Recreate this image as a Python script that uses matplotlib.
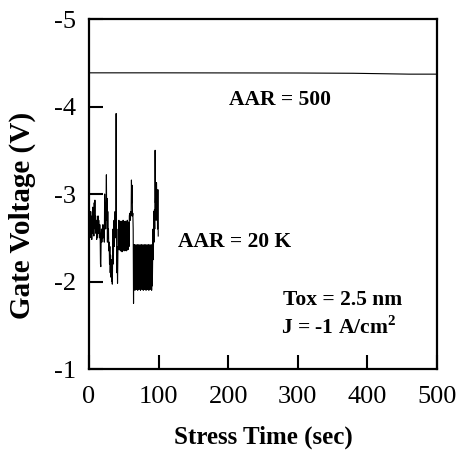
import numpy as np
import matplotlib
matplotlib.use('Agg')
from matplotlib import pyplot as plt

plt.rcParams['font.family'] = ['Liberation Serif', 'DejaVu Serif']
plt.rcParams['axes.unicode_minus'] = False
plt.rcParams['mathtext.fontset'] = 'custom'
plt.rcParams['mathtext.bf'] = 'Liberation Serif:bold'
plt.rcParams['mathtext.rm'] = 'Liberation Serif'

# AAR = 500 trace (stable)
t500 = [0, 100, 200, 300, 380, 460, 500]
v500 = [-4.385, -4.385, -4.384, -4.383, -4.38, -4.37, -4.37]

# AAR = 20 K trace, sampled every 0.5 sec from t = 0
dt20k = 0.5
v20k = [
    # 0 - 16
    -2.6, -2.75, -2.5, -2.7, -2.55, -2.8, -2.5, -2.65, -2.48, -2.75,
    -2.55, -2.85, -2.6, -2.7, -2.52, -2.9, -2.65, -2.93, -2.6, -2.75,
    -2.55, -2.7, -2.48, -2.65, -2.5, -2.6, -2.75, -2.55, -2.7, -2.6,
    -2.5, -2.65, -2.55,
    # 16.5 - 43
    -2.2, -2.17, -2.5, -2.6, -2.45, -2.55, -2.5, -2.65, -2.5, -2.55,
    -2.6, -2.45, -3.0, -2.8, -2.9, -2.6, -2.85, -3.22, -2.7, -2.95,
    -2.45, -2.8, -2.5, -2.6, -2.35, -2.45, -2.2, -2.4, -2.1, -2.3,
    -2.05, -2.25, -2.0, -2.15, -1.97, -2.3, -2.6, -2.2, -2.5, -2.7,
    -2.4, -2.6, -2.8, -2.5, -2.7, -3.92, -2.6, -2.1, -2.4, -1.98,
    -2.3, -2.6, -2.4,
    # 43.5 - 58
    -2.7, -2.36, -2.68, -2.38, -2.66, -2.35, -2.69, -2.37, -2.67, -2.34,
    -2.68, -2.36, -2.7, -2.38, -2.66, -2.35, -2.68, -2.37, -2.69, -2.36,
    -2.67, -2.35, -2.68, -2.38, -2.7, -2.36, -2.66, -2.37, -2.68, -2.4,
    # 58.5 - 65
    -2.75, -2.78, -2.77, -2.7, -2.8, -2.75, -3.16, -2.9, -3.1, -2.75,
    -2.78, -2.6, -1.75, -2.42,
    # 65.5 - 91.5
    -1.92, -2.42, -1.9, -2.41, -1.93, -2.42, -1.91, -2.4, -1.92, -2.42,
    -1.9, -2.41, -1.92, -2.42, -1.91, -2.4, -1.93, -2.42, -1.9, -2.41,
    -1.92, -2.42, -1.91, -2.4, -1.92, -2.42, -1.9, -2.41, -1.93, -2.42,
    -1.91, -2.4, -1.92, -2.42, -1.9, -2.41, -1.92, -2.42, -1.91, -2.4,
    -1.93, -2.42, -1.9, -2.41, -1.92, -2.42, -1.91, -2.4, -1.92, -2.42,
    -1.9, -2.41, -1.95,
    # 92 - 100
    -2.3, -2.6, -2.25, -2.8, -2.45, -2.82, -2.6, -3.5, -2.9, -3.1,
    -2.7, -3.13, -2.9, -3.0, -2.6, -3.05, -2.52,
]
t20k = np.arange(len(v20k)) * dt20k

fig = plt.figure(figsize=(4.63, 4.54), dpi=100)
ax = fig.add_axes([0.1922, 0.1872, 0.7516, 0.7709])

ax.plot(t500, v500, color='k', linewidth=0.8)
ax.plot(t20k, v20k, color='k', linewidth=0.8)

ax.set_xlim(0, 500)
ax.set_ylim(-1, -5)
ax.set_xticks([0, 100, 200, 300, 400, 500])
ax.set_yticks([-1, -2, -3, -4, -5])
ax.tick_params(direction='in', length=10, width=1.5, labelsize=19)
ax.tick_params(axis='x', pad=12)
ax.tick_params(axis='y', pad=9)
for s in ax.spines.values():
    s.set_linewidth(1.6)

ax.set_xlabel('Stress Time (sec)', fontsize=18, fontweight='bold', labelpad=13)
ax.set_ylabel('Gate Voltage (V)', fontsize=21, fontweight='bold')
ax.yaxis.set_label_coords(-0.152, 0.44)

ax.text(274, -4.07, 'AAR = 500', fontsize=15.5, fontweight='bold', ha='center', va='center')
ax.text(128, -2.45, 'AAR = 20 K', fontsize=15.5, fontweight='bold', ha='left', va='center')
ax.text(279, -1.79, 'Tox = 2.5 nm', fontsize=15.5, fontweight='bold', ha='left', va='center')
ax.text(276, -1.47, 'J = -1 A/cm$^\\mathbf{2}$', fontsize=15.5, fontweight='bold', ha='left', va='center')

fig.savefig('out.png', dpi=100)
